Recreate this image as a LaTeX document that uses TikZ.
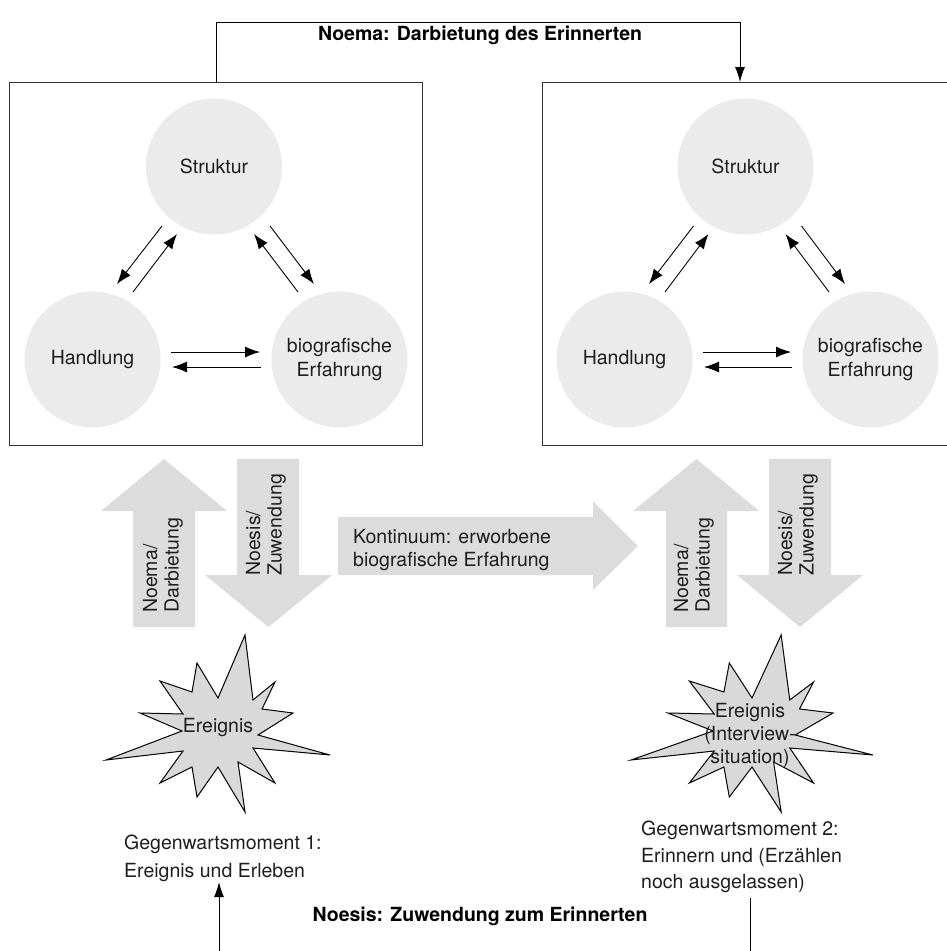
\documentclass[tikz,border=0pt]{standalone}
\usepackage{fontspec}
\setmainfont{TeX Gyre Heros}
\usetikzlibrary{arrows.meta,calc}
\definecolor{circgray}{HTML}{EBEBEB}
\definecolor{blockgray}{HTML}{DCDCDC}
\definecolor{stargray}{HTML}{D9D9D9}
\definecolor{framegray}{HTML}{333333}
\definecolor{txtcol}{HTML}{1E1E1E}
\begin{document}
\begin{tikzpicture}[x=1pt,y=-1pt,
  plainlabel/.style={font=\fontsize{19.5}{24}\selectfont, text=txtcol, inner sep=0pt},
  boldlabel/.style={font=\bfseries\fontsize{19.5}{24}\selectfont, text=black, inner sep=0pt},
  boxframe/.style={draw=framegray, line width=1.4pt, minimum width=413pt, minimum height=363pt, anchor=north west, inner sep=0pt},
  bubble/.style={circle, fill=circgray, minimum size=136pt, inner sep=0pt, align=center, font=\fontsize{19.5}{24.5}\selectfont, text=txtcol},
  relarrow/.style={line width=0.9pt, -{Latex[length=15pt,width=11pt]}},
  connline/.style={line width=1pt, draw=black},
  blockfill/.style={fill=blockgray},
  burstfill/.style={fill=stargray, draw=black, line width=1pt, line join=miter},
  rotlabel/.style={plainlabel, rotate=90, anchor=west, align=left, font=\fontsize{19.5}{21.5}\selectfont},
  starburst/.pic={
    \draw[burstfill] (27,-100) -- (0,-37) -- (-21,-72) -- (-26,-43) -- (-58,-54) -- (-35,-21)
      -- (-78,-22) -- (-36,-4) -- (-112,25) -- (-35,16) -- (-58,48) -- (-26,32) -- (-21,62)
      -- (0,32) -- (27,77) -- (20,27) -- (57,48) -- (35,13) -- (112,20) -- (40,0) -- (75,-22)
      -- (44,-26) -- (57,-53) -- (35,-35) -- cycle;
  }
]
\useasboundingbox (0,0) rectangle (947,951);
\clip (0,0) rectangle (947,951);

% frames
\node[boxframe] (boxL) at (9,82) {};
\node[boxframe] (boxR) at (542,82) {};

% left triangle
\node[bubble] (SL) at (214,166.5) {Struktur};
\node[bubble] (HL) at (92.5,359.5) {Handlung};
\node[bubble] (BL) at (339.5,359.5) {biografische\\Erfahrung};
% right triangle
\node[bubble] (SR) at (745.5,166.5) {Struktur};
\node[bubble] (HR) at (624.5,359.5) {Handlung};
\node[bubble] (BR) at (870.5,359.5) {biografische\\Erfahrung};

\foreach \S/\H/\B in {SL/HL/BL, SR/HR/BR}{
  \draw[relarrow] ($(\S)+(-52,59.5)$) -- ($(\H)+(24.5,-75.5)$);
  \draw[relarrow] ($(\H)+(40.5,-67.5)$) -- ($(\S)+(-37,67.5)$);
  \draw[relarrow] ($(\S)+(56,59.5)$) -- ($(\B)+(-25.5,-75.5)$);
  \draw[relarrow] ($(\B)+(-41.5,-67.5)$) -- ($(\S)+(40,67.5)$);
  \draw[relarrow] ($(\H)+(78.5,-7.5)$) -- ($(\B)+(-79.5,-7.5)$);
  \draw[relarrow] ($(\B)+(-78.5,7.5)$) -- ($(\H)+(79.5,7.5)$);
}

% top connector
\coordinate (topY) at (0,22);
\coordinate (rtop) at (740,82);
\draw[connline, -{Latex[length=15pt,width=10pt]}] (boxL.north) |- (rtop |- topY) -- (rtop);
\node[boldlabel] (noema) at (480,35) {Noema: Darbietung des Erinnerten};

% block arrows
\fill[blockfill] (164,459) -- (227,511) -- (195,511) -- (195,627) -- (133,627) -- (133,511) -- (101,511) -- cycle;
\fill[blockfill] (237,459) -- (299,459) -- (299,575) -- (332,575) -- (268.5,627) -- (205,575) -- (237,575) -- cycle;
\fill[blockfill] (338,517) -- (593,517) -- (593,501) -- (638,546) -- (593,590) -- (593,575) -- (338,575) -- cycle;
\fill[blockfill] (696.5,459) -- (759,511) -- (727,511) -- (727,627) -- (666,627) -- (666,511) -- (633,511) -- cycle;
\fill[blockfill] (769,459) -- (831,459) -- (831,575) -- (863,575) -- (800,627) -- (737,575) -- (769,575) -- cycle;

\node[rotlabel] (upL) at (163,613) {Noema/\\Darbietung};
\node[rotlabel] (downL) at (266,576) {Noesis/\\Zuwendung};
\node[rotlabel] (upR) at (694,613) {Noema/\\Darbietung};
\node[rotlabel] (downR) at (798,576) {Noesis/\\Zuwendung};
\node[plainlabel, anchor=west, align=left, font=\fontsize{19.5}{23}\selectfont] (kont) at (353,550)
  {Kontinuum: erworbene\\biografische Erfahrung};

% starbursts
\pic (burstL) at (218,735) {starburst};
\pic[xscale=1.08] (burstR) at (752,735) {starburst};
\node[plainlabel] (ev1) at (218,728) {Ereignis};
\node[plainlabel, align=center, font=\fontsize{19.5}{23}\selectfont] (ev2) at (750,735)
  {Ereignis\\(Interview-\\situation)};

% bottom texts
\node[plainlabel, anchor=north west, align=left, font=\fontsize{19.5}{28}\selectfont] (gm1) at (124,835)
  {Gegenwartsmoment 1:\\Ereignis und Erleben};
\node[plainlabel, anchor=north west, align=left, font=\fontsize{19.5}{26.5}\selectfont] (gm2) at (641,821)
  {Gegenwartsmoment 2:\\Erinnern und (Erzählen\\noch ausgelassen)};
\node[boldlabel] (noesis) at (480,916) {Noesis: Zuwendung zum Erinnerten};

\coordinate (blB) at (219,951);
\coordinate (blT) at (219,882);
\coordinate (brT) at (750,898);
\coordinate (brB) at (750,951);
\draw[connline, -{Latex[length=15pt,width=10pt]}] (blB) -- (blT);
\draw[connline] (brT) -- (brB);
\end{tikzpicture}
\end{document}
